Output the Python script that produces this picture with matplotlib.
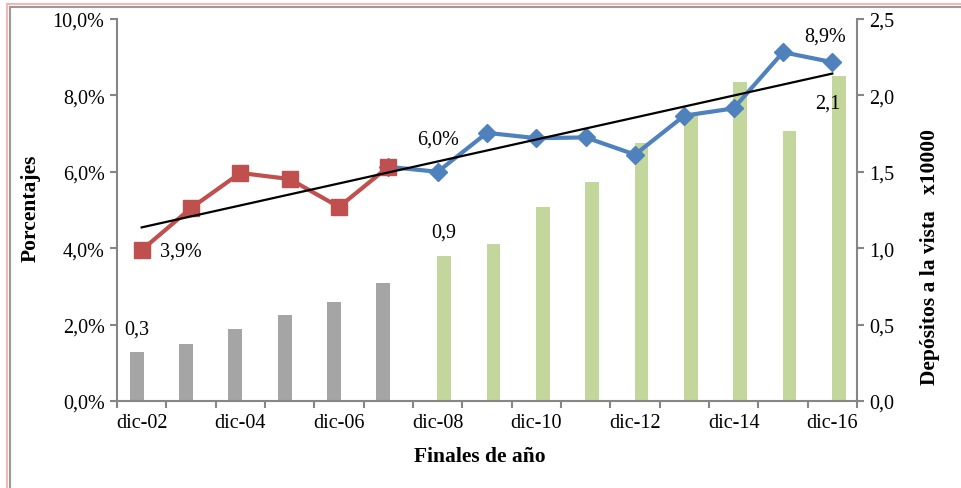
import numpy as np
import matplotlib
matplotlib.use('Agg')
import matplotlib.pyplot as plt
from matplotlib.lines import Line2D

plt.rcParams['font.family'] = ['Liberation Serif', 'DejaVu Serif']

# --- data ----------------------------------------------------------------
years = ['dic-02', 'dic-03', 'dic-04', 'dic-05', 'dic-06', 'dic-07', 'dic-08',
         'dic-09', 'dic-10', 'dic-11', 'dic-12', 'dic-13', 'dic-14', 'dic-15', 'dic-16']
# porcentaje (eje izquierdo)
pct = [3.95, 5.05, 5.97, 5.81, 5.08, 6.13, 6.00,
       7.02, 6.88, 6.90, 6.45, 7.47, 7.66, 9.13, 8.87]
# depósitos a la vista x10000 (eje derecho)
depositos = [0.32, 0.37, 0.47, 0.56, 0.65, 0.77, 0.95,
             1.03, 1.27, 1.43, 1.69, 1.87, 2.09, 1.77, 2.13]
split = 5          # dic-07: last year of the first period
left_ticks = [0, 2, 4, 6, 8, 10]
left_ticklabels = ['0,0%', '2,0%', '4,0%', '6,0%', '8,0%', '10,0%']
right_ticks = [0, 0.5, 1.0, 1.5, 2.0, 2.5]
right_ticklabels = ['0,0', '0,5', '1,0', '1,5', '2,0', '2,5']

RED = '#C0504D'
BLUE = '#4F81BD'
GRAY = '#A5A5A5'
GREEN = '#C3D69B'
AXIS = '#868686'

x = np.arange(len(years))

fig = plt.figure(figsize=(9.61, 4.89), dpi=100)
ax = fig.add_axes([117 / 961, 87 / 489, 740 / 961, 382 / 489])
ax2 = ax.twinx()
ax.set_zorder(ax2.get_zorder() + 1)
ax.patch.set_visible(False)

# bars on secondary axis (two series: gray before 2008, green after)
bw = 0.28
ax2.bar(x[:split + 1] - 0.1, depositos[:split + 1], width=bw, color=GRAY)
ax2.bar(x[split + 1:] + 0.13, depositos[split + 1:], width=bw, color=GREEN)
ax2.set_ylim(0, 2.5)
ax2.set_yticks(right_ticks)
ax2.set_yticklabels(right_ticklabels)

# lines on primary axis
ax.plot(x[split:], pct[split:], color=BLUE, lw=3, marker='D', ms=9.5, zorder=3)
ax.plot(x[:split + 1], pct[:split + 1], color=RED, lw=3, marker='s', ms=11, zorder=4)
coef = np.polyfit(x, pct, 1)
ax.plot(x, np.polyval(coef, x), color='black', lw=1.6, zorder=5)

ax.set_ylim(0, 10)
ax.set_xlim(-0.5, len(years) - 0.5)
ax.set_yticks(left_ticks)
ax.set_yticklabels(left_ticklabels)

fs = 14.5
# x ticks at category boundaries, labels every other year
ax.set_xticks(np.arange(-0.5, len(years), 1.0))
ax.set_xticklabels([])
ax.set_xticks(x[::2], minor=True)
ax.set_xticklabels(years[::2], minor=True)
ax.tick_params(axis='x', which='major', direction='out', length=5, width=1.5, color=AXIS)
ax.tick_params(axis='x', which='minor', length=0, pad=9, labelsize=fs)
ax.tick_params(axis='y', direction='out', length=5, width=1.5, color=AXIS, labelsize=fs, pad=4)
ax2.tick_params(axis='y', direction='out', length=5, width=1.5, color=AXIS, labelsize=fs, pad=4)

for a in (ax, ax2):
    a.spines['top'].set_visible(False)
    for s in ('left', 'right', 'bottom'):
        a.spines[s].set_color(AXIS)
        a.spines[s].set_linewidth(1.5)
ax.spines['right'].set_visible(False)
ax2.spines['left'].set_visible(False)
ax2.spines['bottom'].set_visible(False)

# data labels
ax.annotate('3,9%', (x[0], pct[0]), xytext=(13, -1), textcoords='offset points',
            fontsize=fs, ha='left', va='center')
ax.annotate('6,0%', (x[6], pct[6]), xytext=(0, 17), textcoords='offset points',
            fontsize=fs, ha='center', va='bottom')
ax.annotate('8,9%', (x[-1], pct[-1]), xytext=(-5, 12), textcoords='offset points',
            fontsize=fs, ha='center', va='bottom')
ax2.annotate('0,3', (x[0] - 0.1, depositos[0]), xytext=(0, 10), textcoords='offset points',
             fontsize=fs, ha='center', va='bottom')
ax2.annotate('0,9', (x[6] + 0.13, depositos[6]), xytext=(0, 10), textcoords='offset points',
             fontsize=fs, ha='center', va='bottom')
ax2.annotate('2,1', (x[-1] + 0.13, depositos[-1]), xytext=(-8, -13), textcoords='offset points',
             fontsize=fs, ha='center', va='top')

# axis titles
fig.text(31 / 961, 1 - 208 / 489, 'Porcentajes', rotation=90, fontsize=15.5,
         fontweight='bold', ha='center', va='center')
fig.text(930 / 961, 1 - 257 / 489, 'Depósitos a la vista   x10000', rotation=90,
         fontsize=15.5, fontweight='bold', ha='center', va='center')
fig.text(480 / 961, 1 - 457 / 489, 'Finales de año', fontsize=15.5,
         fontweight='bold', ha='center', va='center')

# outer frame
W, H = 961, 489
fig.add_artist(Line2D([7 / W, 1], [1 - 5 / H, 1 - 5 / H], color='#F4B6B6', lw=1.5))
fig.add_artist(Line2D([7 / W, 7 / W], [0, 1 - 5 / H], color='#F4B6B6', lw=1.5))
fig.add_artist(Line2D([10 / W, 1], [1 - 8 / H, 1 - 8 / H], color='#9A9A9A', lw=1.5))
fig.add_artist(Line2D([10 / W, 10 / W], [0, 1 - 8 / H], color='#9A9A9A', lw=1.5))

fig.savefig('out.png', dpi=100)
